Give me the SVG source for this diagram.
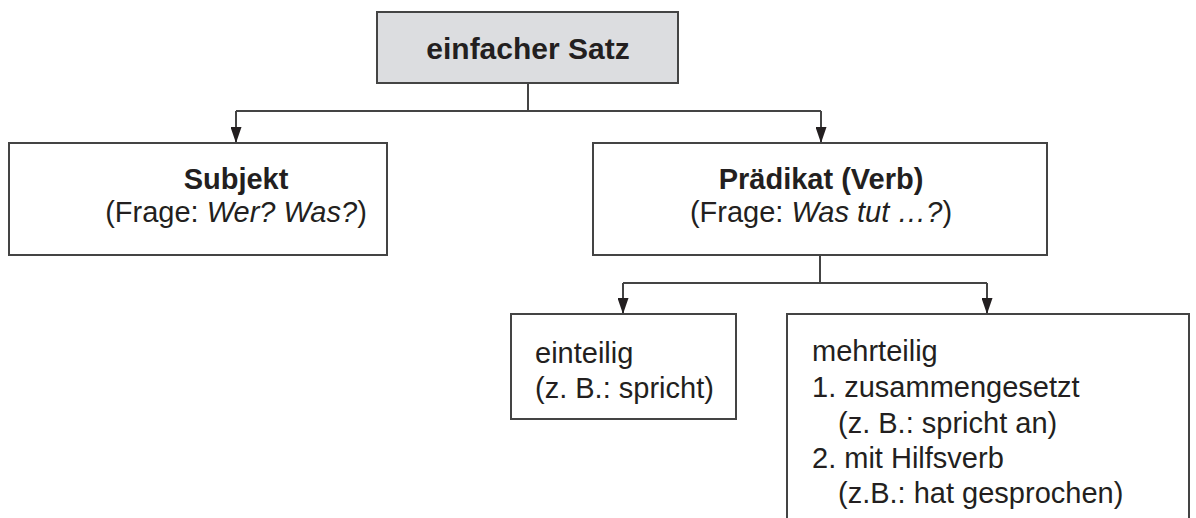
<svg xmlns="http://www.w3.org/2000/svg" width="1196" height="518" viewBox="0 0 1196 518">
  <style>
    .box { fill: #ffffff; stroke: #444444; stroke-width: 2; }
    .root { fill: #dcdde0; stroke: #444444; stroke-width: 2; }
    .wire { fill: none; stroke: #444444; stroke-width: 2; }
    .arrow { marker-end: url(#arrow); }
    text { font-family: "Liberation Sans", Arial, sans-serif; fill: #231f20; font-size: 29px; }
    .b { font-weight: bold; }
    .c { text-anchor: middle; }
    .i { font-style: italic; }
  </style>
  <defs>
    <!-- filled downward arrowhead, tip on the end point of the line -->
    <marker id="arrow" viewBox="0 0 16 11" refX="16" refY="5.5" markerWidth="16" markerHeight="11" markerUnits="userSpaceOnUse" orient="auto">
      <path d="M0,0 L16,5.5 L0,11 Z" fill="#231f20"/>
    </marker>
  </defs>

  <!-- connectors -->
  <g id="connectors">
    <path class="wire" d="M528,83 V111"/>
    <path class="wire" d="M236,111 H821"/>
    <path class="wire arrow" d="M236,111 V143"/>
    <path class="wire arrow" d="M821,111 V143"/>
    <path class="wire" d="M820,255 V283"/>
    <path class="wire" d="M623,283 H987"/>
    <path class="wire arrow" d="M623,283 V314"/>
    <path class="wire arrow" d="M987,283 V314"/>
  </g>

  <!-- root node -->
  <g id="node-satz">
    <rect class="root" x="377" y="12" width="301" height="71"/>
    <text class="b c" x="528" y="59" style="font-size:30px">einfacher Satz</text>
  </g>

  <!-- subject -->
  <g id="node-subjekt">
    <rect class="box" x="9" y="143" width="378" height="112"/>
    <text class="b c" x="236" y="189">Subjekt</text>
    <text class="c" x="236" y="222">(Frage: <tspan class="i">Wer? Was?</tspan>)</text>
  </g>

  <!-- predicate -->
  <g id="node-praedikat">
    <rect class="box" x="593" y="143" width="454" height="112"/>
    <text class="b c" x="821" y="189">Prädikat (Verb)</text>
    <text class="c" x="821" y="222">(Frage: <tspan class="i">Was tut …?</tspan>)</text>
  </g>

  <!-- single-part predicate -->
  <g id="node-einteilig">
    <rect class="box" x="511" y="314" width="225" height="105"/>
    <text x="535" y="363">einteilig</text>
    <text x="535" y="398">(z. B.: spricht)</text>
  </g>

  <!-- multi-part predicate (box runs off the bottom edge) -->
  <g id="node-mehrteilig">
    <path class="box" d="M787,520 V314 H1189 V520"/>
    <text x="812" y="361">mehrteilig</text>
    <text x="812" y="397">1. zusammengesetzt</text>
    <text x="838" y="433">(z. B.: spricht an)</text>
    <text x="812" y="468">2. mit Hilfsverb</text>
    <text x="838" y="503">(z.B.: hat gesprochen)</text>
  </g>
</svg>
